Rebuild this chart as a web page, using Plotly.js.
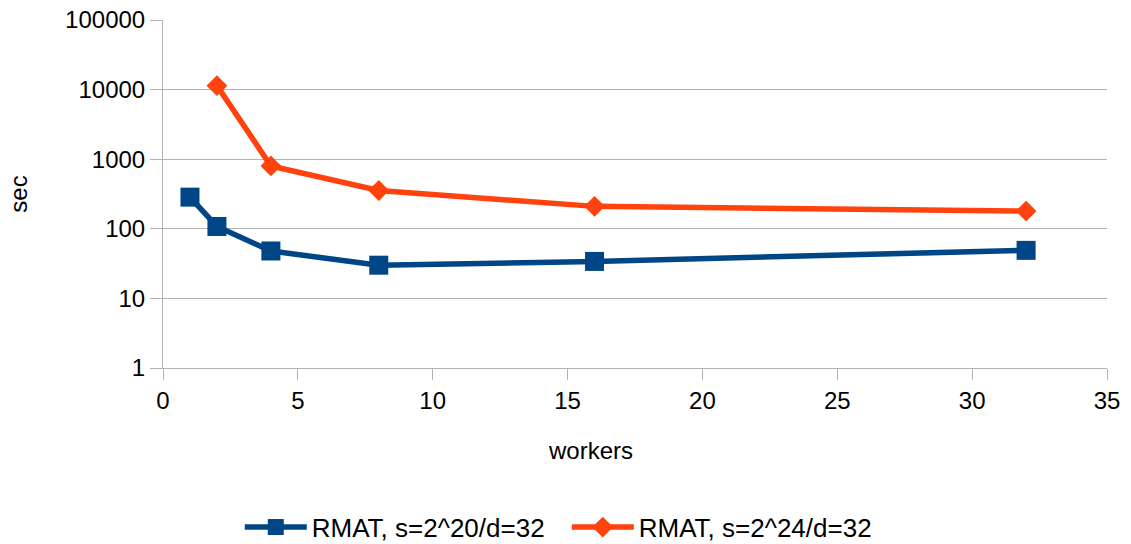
<!DOCTYPE html>
<html><head><meta charset="utf-8">
<script src="https://cdn.plot.ly/plotly-3.0.1.min.js"></script>
<style>html,body{margin:0;padding:0;background:#fff}#c{width:1131px;height:544px}</style>
</head><body><div id="c"></div>
<script>
const workersA = [1, 2, 4, 8, 16, 32];
const secA = [285, 108, 48, 30, 34, 49];
const workersB = [2, 4, 8, 16, 32];
const secB = [11400, 800, 355, 210, 180];
const nameA = "RMAT, s=2^20/d=32";
const nameB = "RMAT, s=2^24/d=32";
const yTickVals = [1, 10, 100, 1000, 10000, 100000];
const yTickText = ["1", "10", "100", "1000", "10000", "100000"];

const traces = [
  {x: workersA, y: secA, name: nameA, mode: "lines+markers",
   line: {color: "#004586", width: 5.5}, marker: {symbol: "square", size: 19, color: "#004586"}},
  {x: workersB, y: secB, name: nameB, mode: "lines+markers",
   line: {color: "#ff420e", width: 5.5}, marker: {symbol: "diamond", size: 16, color: "#ff420e"}}
];
const layout = {
  width: 1131, height: 544,
  margin: {l: 163, r: 24, t: 20, b: 176},
  paper_bgcolor: "#fff", plot_bgcolor: "#fff",
  font: {family: "Liberation Sans, Arial, sans-serif", size: 24, color: "#000"},
  showlegend: true,
  legend: {orientation: "h", x: 0.212, xanchor: "left", xref: "container", y: 0.031, yanchor: "middle", yref: "container",
    font: {size: 26}, itemwidth: 62, entrywidth: 250},
  xaxis: {range: [0, 35], dtick: 5, tick0: 0, showgrid: false, zeroline: false, automargin: false,
    showline: true, linecolor: "#b3b3b3", linewidth: 1, ticks: "outside", ticklen: 11, tickcolor: "#b3b3b3",
    tickfont: {size: 24}},
  yaxis: {type: "log", range: [0, 5], tickmode: "array", tickvals: yTickVals, ticktext: yTickText,
    showgrid: true, gridcolor: "#b3b3b3", gridwidth: 1, zeroline: false, automargin: false,
    showline: true, linecolor: "#b3b3b3", linewidth: 1, ticks: "outside", ticklen: 12, tickcolor: "#b3b3b3",
    title: {text: "sec", font: {size: 24}, standoff: 30}, tickfont: {size: 24}},
  annotations: [{text: "workers", xref: "paper", yref: "paper", x: 0.4525, y: -0.238,
    xanchor: "center", yanchor: "middle", showarrow: false, font: {size: 24}}]
};
Plotly.newPlot("c", traces, layout, {displayModeBar: false, staticPlot: true});
</script></body></html>
